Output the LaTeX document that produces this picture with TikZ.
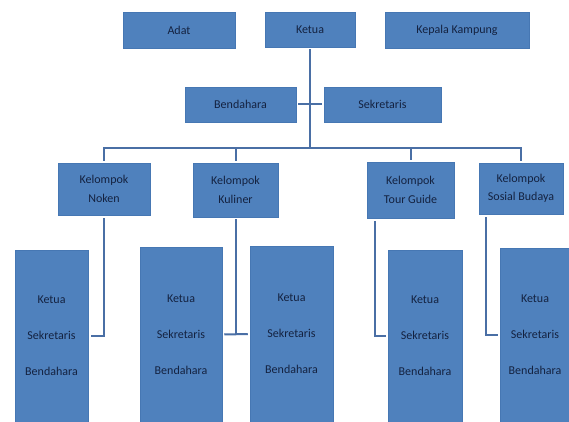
\documentclass[tikz,border=0pt]{standalone}
\usepackage{fontspec}
\setmainfont{Carlito}
\usetikzlibrary{calc}
\definecolor{OrgFill}{HTML}{4F81BD}
\definecolor{OrgEdge}{HTML}{4677B3}
\definecolor{OrgText}{HTML}{142240}
\definecolor{OrgLine}{HTML}{4A6FA5}
\tikzset{
  orgbox/.style={draw=OrgEdge, fill=OrgFill, line width=0.5pt, align=center,
                 font=\fontsize{12}{18.5}\selectfont\color{OrgText}, inner sep=2pt},
  memberbox/.style={orgbox},
  link/.style={draw=OrgLine, line width=2pt},
}

\begin{document}
\begin{tikzpicture}[x=1pt, y=-1pt]
  \useasboundingbox (0,0) rectangle (569,422);

  % pimpinan
  \node[orgbox, minimum width=112pt, minimum height=36pt] (adat) at (179,30) {Adat};
  \node[orgbox, minimum width=90pt, minimum height=35pt] (ketua) at (310,29.5) {Ketua};
  \node[orgbox, minimum width=144pt, minimum height=36pt] (kepala) at (457,30) {Kepala Kampung};
  \node[orgbox, minimum width=111pt, minimum height=35pt] (bendahara) at (240.5,104.5) {Bendahara};
  \node[orgbox, minimum width=117pt, minimum height=35pt] (sekretaris) at (382.5,104.5) {Sekretaris};

  % kelompok
  \node[orgbox, minimum width=92pt, minimum height=52pt] (noken) at (104,189) {Kelompok\\Noken};
  \node[orgbox, minimum width=85pt, minimum height=54pt] (kuliner) at (235.5,190) {Kelompok\\Kuliner};
  \node[orgbox, minimum width=87pt, minimum height=56pt] (tour) at (410.5,190) {Kelompok\\Tour Guide};
  \node[orgbox, minimum width=84pt, minimum height=51pt] (sosial) at (521,188.5) {Kelompok\\Sosial Budaya};

  % pengurus kelompok
  \node[memberbox, minimum width=73pt, minimum height=172pt] (nokenA) at (51.5,336)
    {Ketua\\[17.5pt]Sekretaris\\[17.5pt]Bendahara};
  \node[memberbox, minimum width=82pt, minimum height=175pt] (kulinerA) at (181,334.5)
    {Ketua\\[17.5pt]Sekretaris\\[17.5pt]Bendahara};
  \node[memberbox, minimum width=83pt, minimum height=176pt] (kulinerB) at (291.5,334)
    {Ketua\\[17.5pt]Sekretaris\\[17.5pt]Bendahara};
  \node[memberbox, minimum width=74pt, minimum height=172pt] (tourA) at (425,336)
    {Ketua\\[17.5pt]Sekretaris\\[17.5pt]Bendahara};
  \node[memberbox, minimum width=70pt, minimum height=174pt] (sosialA) at (535,335)
    {Ketua\\[17.5pt]Sekretaris\\[17.5pt]Bendahara};

  % garis
  \coordinate (bus) at (310,148);
  \draw[link, shorten <=2pt] (ketua.south) -- (bus);
  \draw[link, shorten <=2pt, shorten >=2pt] (bendahara.east) -- (sekretaris.west);
  \draw[link, shorten <=2pt, shorten >=2pt] (noken.north) -- (noken.north |- bus) -| (sosial.north);
  \draw[link, shorten <=2pt] (kuliner.north) -- (kuliner.north |- bus);
  \draw[link, shorten <=2pt] (tour.north) -- (tour.north |- bus);

  \draw[link, shorten <=3pt, shorten >=3pt] (noken.south) |- (nokenA.east);
  \draw[link, shorten <=2pt] (kuliner.south) -- (kuliner.south |- kulinerA.east);
  \draw[link, shorten <=2pt, shorten >=2pt] (kulinerA.east) -- (kulinerB.west);
  \draw[link, shorten <=3pt, shorten >=2pt] ([xshift=8pt]tour.south west) |- (tourA.west);
  \draw[link, shorten <=3pt, shorten >=2pt] ([xshift=7pt]sosial.south west) |- (sosialA.west);
\end{tikzpicture}
\end{document}
